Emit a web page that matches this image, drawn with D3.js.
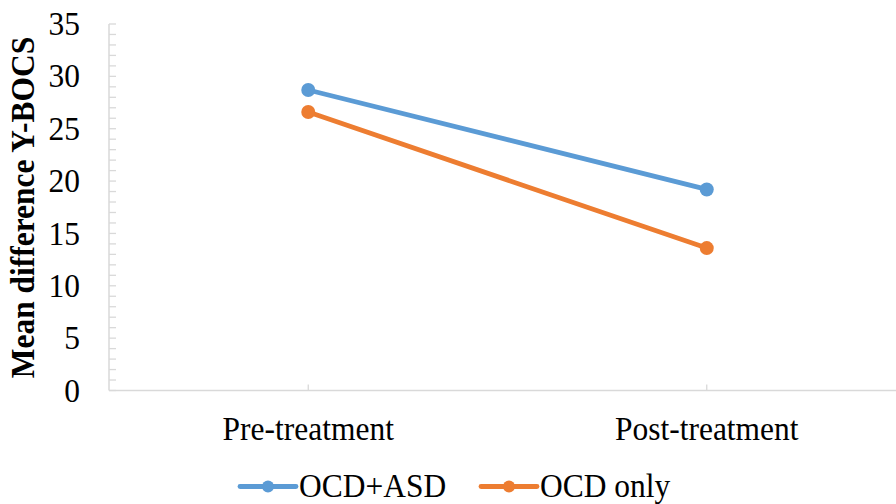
<!DOCTYPE html>
<html><head><meta charset="utf-8">
<script src="https://cdn.jsdelivr.net/npm/d3@7"></script>
<style>body{margin:0;background:#fff}svg{display:block}</style>
</head><body>
<svg id="c" width="896" height="504"></svg>
<script>
const categories = ["Pre-treatment", "Post-treatment"];
const seriesNames = ["OCD+ASD", "OCD only"];
const ocdAsd = [28.7, 19.2];
const ocdOnly = [26.6, 13.6];
const yTicks = [0, 5, 10, 15, 20, 25, 30, 35];
const colors = ["#5B9BD5", "#ED7D31"];
const series = [ocdAsd, ocdOnly];

(function () {
const svg = d3.select("#c");
const font = "'Liberation Serif','Times New Roman',serif";
const fs = 30, sx = 1.05, sy = 1.12;
const mLeft = 109, mRight = 906, mTop = 24, mBottom = 390.5;

const x = d3.scaleBand().domain(categories).range([mLeft, mRight]);
const y = d3.scaleLinear().domain([0, 35]).range([mBottom, mTop]);
const axisColor = "#d9d9d9";
const cx = c => x(c) + x.bandwidth() / 2;

const minor = d3.range(0, 36, 1);
svg.append("g").selectAll("line").data(minor).join("line")
  .attr("x1", mLeft).attr("x2", mLeft + 7)
  .attr("y1", d => y(d)).attr("y2", d => y(d))
  .attr("stroke", axisColor).attr("stroke-width", 1.3);

svg.append("line").attr("x1", mLeft).attr("x2", mLeft).attr("y1", mTop).attr("y2", mBottom)
  .attr("stroke", axisColor).attr("stroke-width", 1.5);
svg.append("line").attr("x1", mLeft).attr("x2", mRight).attr("y1", mBottom).attr("y2", mBottom)
  .attr("stroke", axisColor).attr("stroke-width", 1.5);
svg.append("g").selectAll("line").data(categories).join("line")
  .attr("x1", cx).attr("x2", cx)
  .attr("y1", mBottom).attr("y2", mBottom - 6)
  .attr("stroke", axisColor).attr("stroke-width", 1.3);

svg.append("g").selectAll("text").data(yTicks).join("text")
  .attr("transform", d => `translate(80,${y(d)}) scale(${sx},${sy})`).attr("dy", "0.33em")
  .attr("text-anchor", "end").attr("font-family", font).attr("font-size", fs)
  .attr("fill", "#000").text(d => d);

svg.append("g").selectAll("text").data(categories).join("text")
  .attr("transform", d => `translate(${cx(d)},440) scale(${sx},${sy})`)
  .attr("text-anchor", "middle").attr("font-family", font).attr("font-size", fs)
  .attr("fill", "#000").text(d => d);

svg.append("text").attr("transform", `translate(34,207.5) rotate(-90) scale(${sx},${sy})`)
  .attr("text-anchor", "middle").attr("font-family", font).attr("font-size", fs)
  .attr("font-weight", "bold").attr("fill", "#000").text("Mean difference Y-BOCS");

const line = d3.line().x((d, i) => cx(categories[i])).y(d => y(d));
series.forEach((s, k) => {
  svg.append("path").attr("d", line(s)).attr("fill", "none")
    .attr("stroke", colors[k]).attr("stroke-width", 4.8).attr("stroke-linecap", "round");
  svg.append("g").selectAll("circle").data(s).join("circle")
    .attr("cx", (d, i) => cx(categories[i])).attr("cy", d => y(d))
    .attr("r", 7).attr("fill", colors[k]);
});

const legX = [240, 481];
seriesNames.forEach((n, k) => {
  const g = svg.append("g").attr("transform", `translate(${legX[k]},486.5)`);
  g.append("line").attr("x1", 0).attr("x2", 56).attr("y1", 0).attr("y2", 0)
    .attr("stroke", colors[k]).attr("stroke-width", 4.8).attr("stroke-linecap", "round");
  g.append("circle").attr("cx", 28).attr("cy", 0).attr("r", 6).attr("fill", colors[k]);
  g.append("text").attr("transform", `translate(59,10) scale(${sx},${sy})`)
    .attr("font-family", font).attr("font-size", fs).attr("fill", "#000").text(n);
});
})();
</script>
</body></html>
